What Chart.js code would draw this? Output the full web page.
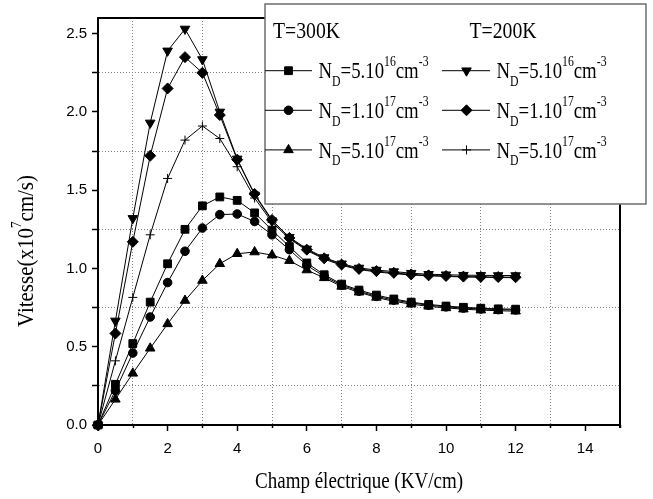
<!DOCTYPE html>
<html>
<head>
<meta charset="utf-8">
<script src="https://cdn.jsdelivr.net/npm/chart.js@4/dist/chart.umd.min.js"></script>
<style>
  html, body { margin: 0; padding: 0; background: #fff; }
</style>
</head>
<body>
<canvas id="chart" width="653" height="499"></canvas>
<script>
// electric field (KV/cm)
const champ = [0, 0.5, 1, 1.5, 2, 2.5, 3, 3.5, 4, 4.5, 5, 5.5, 6,
               6.5, 7, 7.5, 8, 8.5, 9, 9.5, 10, 10.5, 11, 11.5, 12];

// drift velocity (x10^7 cm/s), T = 300K
const v300_5e16 = [0, 0.26, 0.52, 0.785, 1.03, 1.25, 1.40, 1.457, 1.435, 1.355, 1.245, 1.14, 1.035,
                   0.96, 0.90, 0.862, 0.83, 0.805, 0.785, 0.77, 0.76, 0.752, 0.746, 0.742, 0.74];
const v300_1e17 = [0, 0.22, 0.46, 0.69, 0.91, 1.11, 1.258, 1.344, 1.348, 1.30, 1.215, 1.12, 1.02,
                   0.95, 0.893, 0.855, 0.822, 0.798, 0.78, 0.765, 0.755, 0.747, 0.741, 0.737, 0.735];
const v300_5e17 = [0, 0.164, 0.33, 0.49, 0.646, 0.795, 0.923, 1.03, 1.094, 1.105, 1.085, 1.05, 0.99,
                   0.94, 0.885, 0.848, 0.815, 0.79, 0.772, 0.758, 0.748, 0.74, 0.734, 0.73, 0.727];

// drift velocity (x10^7 cm/s), T = 200K
const v200_5e16 = [0, 0.665, 1.32, 1.93, 2.39, 2.53, 2.335, 2.00, 1.70, 1.47, 1.305, 1.20, 1.125,
                   1.07, 1.03, 1.003, 0.99, 0.98, 0.97, 0.963, 0.96, 0.957, 0.956, 0.955, 0.955];
const v200_1e17 = [0, 0.585, 1.17, 1.72, 2.15, 2.35, 2.25, 1.98, 1.695, 1.476, 1.31, 1.195, 1.12,
                   1.065, 1.025, 0.997, 0.983, 0.972, 0.962, 0.956, 0.952, 0.948, 0.946, 0.945, 0.944];
const v200_5e17 = [0, 0.41, 0.815, 1.215, 1.575, 1.82, 1.91, 1.83, 1.65, 1.45, 1.295, 1.19, 1.115,
                   1.06, 1.02, 0.993, 0.978, 0.967, 0.958, 0.953, 0.949, 0.946, 0.944, 0.942, 0.941];

// axis ticks: labelled ones every 0.5 / 2, grid on the ones in between
const yTicks = [0, 0.25, 0.5, 0.75, 1, 1.25, 1.5, 1.75, 2, 2.25, 2.5];
const xTicks = [0, 1, 2, 3, 4, 5, 6, 7, 8, 9, 10, 11, 12, 13, 14, 15];

// legend text, split into plain / subscript / superscript runs
const tempLabels = ['T=300K', 'T=200K'];
const dopingLabels = [
  ['N', ['D', 'sub'], '=5.10', ['16', 'sup'], 'cm', ['-3', 'sup']],
  ['N', ['D', 'sub'], '=1.10', ['17', 'sup'], 'cm', ['-3', 'sup']],
  ['N', ['D', 'sub'], '=5.10', ['17', 'sup'], 'cm', ['-3', 'sup']]
];
const xTitle = ['Champ électrique (KV/cm)'];
const yTitle = ['Vitesse(x10', ['7', 'sup'], 'cm/s)'];

function series(values, style, radius, rotation) {
  return {
    data: values.map((v, i) => ({ x: champ[i], y: v })),
    borderColor: '#000',
    borderWidth: 1,
    pointStyle: style,
    pointRadius: radius,
    pointRotation: rotation || 0,
    pointBackgroundColor: '#000',
    pointBorderColor: '#000',
    pointBorderWidth: 1,
    tension: 0,
    clip: false
  };
}

const datasets = [
  series(v300_5e16, 'rect', 5.5),
  series(v300_1e17, 'circle', 4.3),
  series(v300_5e17, 'triangle', 5.5),
  series(v200_5e16, 'triangle', 5.5, 180),
  series(v200_1e17, 'rectRot', 5.5),
  series(v200_5e17, 'cross', 4.5)
];

// small helper: text with sub/superscripts, squeezed to a given width
function drawRich(ctx, parts, o) {
  const big = o.size + 'px "Liberation Serif"';
  const little = o.small + 'px "Liberation Serif"';
  const items = parts.map(p => typeof p === 'string' ? { t: p, k: '' } : { t: p[0], k: p[1] });
  let natural = 0;
  items.forEach(it => {
    ctx.font = it.k ? little : big;
    it.w = ctx.measureText(it.t).width;
    natural += it.w;
  });
  ctx.save();
  ctx.translate(o.x, o.y);
  if (o.rotate) ctx.rotate(-Math.PI / 2);
  ctx.scale(o.width / natural, 1);
  ctx.fillStyle = '#000';
  ctx.textAlign = 'left';
  ctx.textBaseline = 'alphabetic';
  let cx = o.align === 'center' ? -natural / 2 : 0;
  items.forEach(it => {
    ctx.font = it.k ? little : big;
    const dy = it.k === 'sup' ? -o.size * 0.5 : it.k === 'sub' ? o.size * 0.32 : 0;
    ctx.fillText(it.t, cx, dy);
    cx += it.w;
  });
  ctx.restore();
}

const isOddQuarter = v => Math.round(v * 4) % 2 === 1;
const isOddUnit = v => Math.round(v) % 2 === 1;

const decorations = {
  id: 'decorations',
  afterDraw(chart) {
    const ctx = chart.ctx;
    const a = chart.chartArea;
    const xs = chart.scales.x;

    ctx.save();
    // short minor ticks on the field axis
    ctx.strokeStyle = '#000';
    ctx.lineWidth = 1.5;
    xTicks.filter(isOddUnit).forEach(v => {
      const px = Math.round(xs.getPixelForValue(v)) + 0.5;
      ctx.beginPath();
      ctx.moveTo(px, a.bottom);
      ctx.lineTo(px, a.bottom + 3);
      ctx.stroke();
    });
    // top and right sides of the frame
    ctx.lineWidth = 2;
    ctx.beginPath();
    ctx.moveTo(a.left, a.top);
    ctx.lineTo(a.right, a.top);
    ctx.lineTo(a.right, a.bottom + 3);
    ctx.stroke();

    // legend box
    ctx.fillStyle = '#fff';
    ctx.fillRect(265, 4, 381, 200);
    ctx.strokeStyle = '#6e6e6e';
    ctx.lineWidth = 1.5;
    ctx.strokeRect(265, 4, 381, 200);

    drawRich(ctx, [tempLabels[0]], { x: 273, y: 37.7, size: 23, small: 14, width: 67 });
    drawRich(ctx, [tempLabels[1]], { x: 469.5, y: 37.7, size: 23, small: 14, width: 67 });

    const cols = [{ x0: 265, x1: 312, mark: 288.5, text: 318.5 },
                  { x0: 442, x1: 490, mark: 466.5, text: 496.5 }];
    for (let c = 0; c < 2; c++) {
      for (let r = 0; r < 3; r++) {
        const ds = chart.data.datasets[c * 3 + r];
        const base = 78.3 + r * 39.6;
        const my = base - 7.6;
        ctx.strokeStyle = '#000';
        ctx.lineWidth = 1;
        ctx.beginPath();
        ctx.moveTo(cols[c].x0, my);
        ctx.lineTo(cols[c].x1, my);
        ctx.stroke();
        ctx.fillStyle = '#000';
        Chart.helpers.drawPoint(ctx, {
          pointStyle: ds.pointStyle,
          radius: ds.pointRadius,
          rotation: ds.pointRotation,
          borderWidth: 1
        }, cols[c].mark, my);
        drawRich(ctx, dopingLabels[r], { x: cols[c].text, y: base, size: 24, small: 15, width: 110 });
      }
    }

    // axis titles
    drawRich(ctx, xTitle, { x: 359, y: 488.3, size: 24, small: 15, width: 208, align: 'center' });
    drawRich(ctx, yTitle, { x: 33, y: 251, size: 24, small: 15, width: 152, align: 'center', rotate: true });
    ctx.restore();
  }
};

new Chart(document.getElementById('chart'), {
  type: 'line',
  data: { datasets: datasets },
  options: {
    responsive: false,
    animation: false,
    events: [],
    layout: { padding: { top: 18, right: 33, left: 0, bottom: 0 } },
    plugins: { legend: { display: false }, tooltip: { enabled: false } },
    scales: {
      x: {
        type: 'linear',
        min: 0,
        max: 15,
        afterFit: s => { s.height = 74; },
        afterBuildTicks: s => { s.ticks = xTicks.map(v => ({ value: v })); },
        ticks: {
          autoSkip: false,
          maxRotation: 0,
          padding: 9,
          color: '#000',
          font: { family: '"Liberation Sans"', size: 15 },
          callback: v => (Math.round(v) % 2 === 0 ? String(v) : '')
        },
        grid: {
          color: c => (isOddUnit(c.tick.value) ? '#808080' : 'rgba(0,0,0,0)'),
          lineWidth: 1,
          tickLength: 6,
          tickWidth: 1.5,
          tickColor: c => (isOddUnit(c.tick.value) ? 'rgba(0,0,0,0)' : '#000')
        },
        border: { color: '#000', width: 2, dash: [1, 2] }
      },
      y: {
        min: 0,
        max: 2.6,
        afterFit: s => { s.width = 98; },
        afterBuildTicks: s => { s.ticks = yTicks.map(v => ({ value: v })); },
        ticks: {
          autoSkip: false,
          padding: 5,
          color: '#000',
          font: { family: '"Liberation Sans"', size: 15 },
          callback: v => (Math.abs(v * 2 - Math.round(v * 2)) < 1e-6 ? v.toFixed(1) : '')
        },
        grid: {
          color: c => (isOddQuarter(c.tick.value) ? '#808080' : 'rgba(0,0,0,0)'),
          lineWidth: 1,
          tickLength: 6,
          tickWidth: 1.5,
          tickColor: '#000'
        },
        border: { color: '#000', width: 2, dash: [1, 2] }
      }
    }
  },
  plugins: [decorations]
});
</script>
</body>
</html>
